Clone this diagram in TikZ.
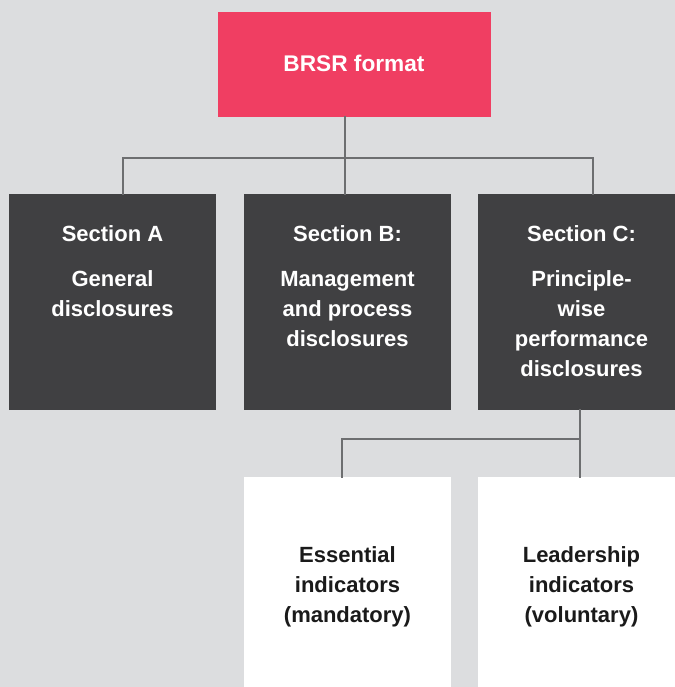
\documentclass[tikz,border=0pt]{standalone}
\usepackage{fontspec}
\setmainfont{Liberation Sans}
\definecolor{bg}{HTML}{DCDDDF}
\definecolor{brsr}{HTML}{F03E62}
\definecolor{darkbox}{HTML}{404042}
\definecolor{conncol}{HTML}{6D6E70}
\definecolor{inktext}{HTML}{1A1A1A}
\tikzset{
  box/.style={rectangle, inner sep=0pt, outer sep=0pt, anchor=north west, minimum width=207*0.75pt, minimum height=216*0.75pt},
  redbox/.style={box, fill=brsr, minimum width=273*0.75pt, minimum height=105*0.75pt},
  greybox/.style={box, fill=darkbox},
  whitebox/.style={box, fill=white, minimum height=220*0.75pt},
  lbl/.style={anchor=north, inner sep=0pt, outer sep=0pt, align=center, font=\bfseries\fontsize{16.5}{22.5}\selectfont},
  conn/.style={draw=conncol, line width=2.1pt, line join=miter, line cap=rect}
}
\begin{document}
\begin{tikzpicture}[x=0.75pt, y=-0.75pt]
\clip (0,0) rectangle (675,687);
\fill[bg] (0,0) rectangle (675,687);
% boxes
\node[redbox] (red) at (218,12) {};
\node[greybox] (A) at (9,194) {};
\node[greybox] (B) at (244,194) {};
\node[greybox] (C) at (478,194) {};
\node[whitebox] (W1) at (244,477) {};
\node[whitebox] (W2) at (478,477) {};
% labels
\node[lbl, text=white, font=\bfseries\fontsize{17}{22.5}\selectfont] (tred) at (354,55.5) {BRSR format};
\node[lbl, text=white] (tA) at (112.5,226) {Section A\\[11.25pt]General\\disclosures};
\node[lbl, text=white] (tB) at (347.5,226) {Section B:\\[11.25pt]Management\\and process\\disclosures};
\node[lbl, text=white] (tC) at (581.5,226) {Section C:\\[11.25pt]Principle-\\wise\\performance\\disclosures};
\node[lbl, text=inktext] (tW1) at (347.5,547) {Essential\\indicators\\(mandatory)};
\node[lbl, text=inktext] (tW2) at (581.5,547) {Leadership\\indicators\\(voluntary)};
% connector junctions
\coordinate (j1) at (345,158);
\coordinate (ja) at (123,158);
\coordinate (jc) at (593,158);
\coordinate (kc) at (580,439);
\coordinate (k1) at (342,439);
% connectors
\draw[conn] (red.south -| j1) -- (j1);
\draw[conn] (A.north -| ja) -- (ja) -- (jc) -- (C.north -| jc);
\draw[conn] (j1) -- (B.north -| j1);
\draw[conn] (C.south -| kc) -- (kc) -- (k1) -- (W1.north -| k1);
\draw[conn] (kc) -- (W2.north -| kc);
\end{tikzpicture}
\end{document}
